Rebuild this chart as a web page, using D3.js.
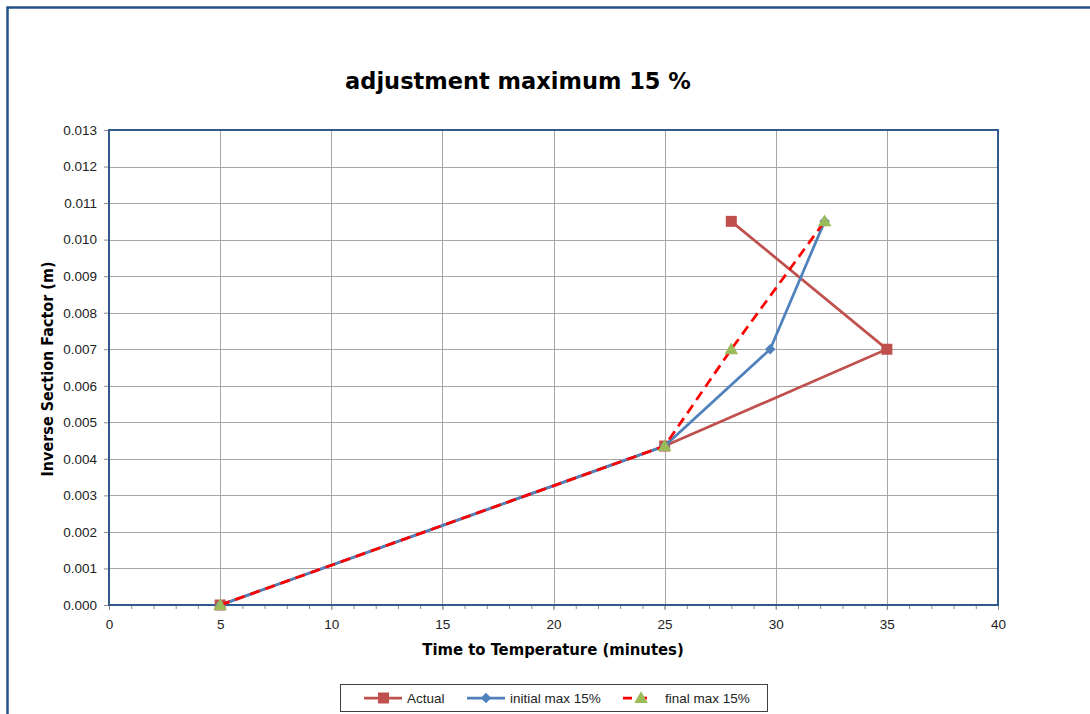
<!DOCTYPE html>
<html>
<head>
<meta charset="utf-8">
<script src="https://cdn.jsdelivr.net/npm/d3@7"></script>
<style>
  html, body { margin: 0; padding: 0; background: #ffffff; }
  svg { display: block; }
</style>
</head>
<body>
<svg id="chart" width="1090" height="714"></svg>
<script>
// Series: time to temperature (minutes) vs inverse section factor (m)
const actualX  = [5, 25, 35, 28];
const actualY  = [0.000, 0.00435, 0.0070, 0.0105];
const initialX = [5, 25, 29.75, 32.2];
const initialY = [0.000, 0.00435, 0.0070, 0.0105];
const finalX   = [5, 25, 28, 32.2];
const finalY   = [0.000, 0.00435, 0.0070, 0.0105];

const seriesNames = ["Actual", "initial max 15%", "final max 15%"];
const xTicks = [0, 5, 10, 15, 20, 25, 30, 35, 40];
const yTicks = [0, 0.001, 0.002, 0.003, 0.004, 0.005, 0.006, 0.007, 0.008, 0.009, 0.010, 0.011, 0.012, 0.013];

const titleText = "adjustment maximum 15 %";
const xTitle = "Time to Temperature (minutes)";
const yTitle = "Inverse Section Factor (m)";

const svg = d3.select("#chart");
const plot = { left: 109, top: 130, right: 998, bottom: 605 };

const x = d3.scaleLinear().domain([0, 40]).range([plot.left, plot.right]);
const y = d3.scaleLinear().domain([0, 0.013]).range([plot.bottom, plot.top]);

// outer chart frame
svg.append("rect")
  .attr("x", 7.5).attr("y", 7.5).attr("width", 1100).attr("height", 720)
  .attr("fill", "none").attr("stroke", "#24528A").attr("stroke-width", 2.5);

// title
svg.append("text")
  .attr("x", 518).attr("y", 89)
  .attr("text-anchor", "middle")
  .attr("font-family", "DejaVu Sans, Verdana, sans-serif")
  .attr("font-weight", "bold").attr("font-size", 22.5)
  .attr("fill", "#000")
  .text(titleText);

// gridlines
const grid = svg.append("g");
grid.selectAll("line.h").data(yTicks.slice(1)).join("line")
  .attr("x1", plot.left).attr("x2", plot.right)
  .attr("y1", d => Math.round(y(d)) + 0.5).attr("y2", d => Math.round(y(d)) + 0.5)
  .attr("stroke", "#a6a6a6").attr("stroke-width", 1);
grid.selectAll("line.v").data(xTicks.slice(1, -1)).join("line")
  .attr("y1", plot.top).attr("y2", plot.bottom)
  .attr("x1", d => Math.round(x(d)) + 0.5).attr("x2", d => Math.round(x(d)) + 0.5)
  .attr("stroke", "#a6a6a6").attr("stroke-width", 1);

// axes
const fmtY = d3.format(".3f");
const yAxis = svg.append("g")
  .attr("transform", `translate(${plot.left},0)`)
  .call(d3.axisLeft(y).tickValues(yTicks).tickFormat(fmtY).tickSize(5).tickPadding(7));
const xAxis = svg.append("g")
  .attr("transform", `translate(0,${plot.bottom})`)
  .call(d3.axisBottom(x).tickValues(xTicks).tickFormat(d3.format("d")).tickSize(5).tickPadding(9));
const xMinor = svg.append("g")
  .attr("transform", `translate(0,${plot.bottom})`)
  .call(d3.axisBottom(x).tickValues(d3.range(0, 41, 1)).tickFormat("").tickSize(4));
[yAxis, xAxis, xMinor].forEach(g => {
  g.select(".domain").remove();
  g.selectAll(".tick line").attr("stroke", "#8c8c8c");
  g.selectAll("text")
    .attr("font-family", "Liberation Sans, Arial, sans-serif")
    .attr("font-size", 13.5).attr("fill", "#222");
});

// plot area border
svg.append("rect")
  .attr("x", plot.left).attr("y", plot.top)
  .attr("width", plot.right - plot.left).attr("height", plot.bottom - plot.top)
  .attr("fill", "none").attr("stroke", "#2E5A8E").attr("stroke-width", 2);

// axis titles
svg.append("text")
  .attr("x", 553).attr("y", 655)
  .attr("text-anchor", "middle")
  .attr("font-family", "DejaVu Sans Condensed, DejaVu Sans, sans-serif")
  .attr("font-weight", "bold").attr("font-size", 16.5)
  .text(xTitle);
svg.append("text")
  .attr("transform", "translate(53,369) rotate(-90)")
  .attr("text-anchor", "middle")
  .attr("font-family", "DejaVu Sans Condensed, DejaVu Sans, sans-serif")
  .attr("font-weight", "bold").attr("font-size", 16)
  .text(yTitle);

const zip = (xs, ys) => xs.map((v, i) => [v, ys[i]]);
const line = d3.line().x(d => x(d[0])).y(d => y(d[1]));

const colors = { actual: "#C0504D", initial: "#4F81BD", finalLine: "#FF0000", finalMark: "#9BBB59" };

// Actual
const actual = zip(actualX, actualY);
svg.append("path").datum(actual).attr("d", line)
  .attr("fill", "none").attr("stroke", colors.actual).attr("stroke-width", 2.75);
svg.selectAll("rect.act").data(actual).join("rect")
  .attr("x", d => x(d[0]) - 5.5).attr("y", d => y(d[1]) - 5.5)
  .attr("width", 11).attr("height", 11).attr("fill", colors.actual);

// initial
const initial = zip(initialX, initialY);
svg.append("path").datum(initial).attr("d", line)
  .attr("fill", "none").attr("stroke", colors.initial).attr("stroke-width", 2.75);
const diamond = d3.symbol().type(d3.symbolDiamond2).size(70);
svg.selectAll("path.ini").data(initial).join("path")
  .attr("transform", d => `translate(${x(d[0])},${y(d[1])})`)
  .attr("d", diamond).attr("fill", colors.initial);

// final
const fin = zip(finalX, finalY);
svg.append("path").datum(fin).attr("d", line)
  .attr("fill", "none").attr("stroke", colors.finalLine).attr("stroke-width", 2.75)
  .attr("stroke-dasharray", "10,6");
const tri = d3.symbol().type(d3.symbolTriangle).size(80);
svg.selectAll("path.fin").data(fin).join("path")
  .attr("transform", d => `translate(${x(d[0])},${y(d[1]) + 1})`)
  .attr("d", tri).attr("fill", colors.finalMark);

// legend
const lg = svg.append("g");
lg.append("rect").attr("x", 340.5).attr("y", 684.5).attr("width", 427).attr("height", 27)
  .attr("fill", "#fff").attr("stroke", "#404040").attr("stroke-width", 1);
const ly = 698;
const legendItems = [
  { x0: 364, tx: 407, name: seriesNames[0] },
  { x0: 467, tx: 510, name: seriesNames[1] },
  { x0: 623, tx: 665, name: seriesNames[2] }
];
// Actual swatch
lg.append("line").attr("x1", legendItems[0].x0).attr("x2", legendItems[0].x0 + 38)
  .attr("y1", ly).attr("y2", ly).attr("stroke", colors.actual).attr("stroke-width", 2.75);
lg.append("rect").attr("x", legendItems[0].x0 + 14).attr("y", ly - 5.5)
  .attr("width", 11).attr("height", 11).attr("fill", colors.actual);
// initial swatch
lg.append("line").attr("x1", legendItems[1].x0).attr("x2", legendItems[1].x0 + 38)
  .attr("y1", ly).attr("y2", ly).attr("stroke", colors.initial).attr("stroke-width", 2.75);
lg.append("path").attr("transform", `translate(${legendItems[1].x0 + 19},${ly})`)
  .attr("d", diamond).attr("fill", colors.initial);
// final swatch
lg.append("line").attr("x1", legendItems[2].x0).attr("x2", legendItems[2].x0 + 30)
  .attr("y1", ly).attr("y2", ly).attr("stroke", colors.finalLine).attr("stroke-width", 2.75)
  .attr("stroke-dasharray", "9,6");
lg.append("path").attr("transform", `translate(${legendItems[2].x0 + 18},${ly + 1})`)
  .attr("d", tri).attr("fill", colors.finalMark);
legendItems.forEach(it => {
  lg.append("text").attr("x", it.tx).attr("y", ly + 5)
    .attr("font-family", "Liberation Sans, Arial, sans-serif")
    .attr("font-size", 13.5).attr("fill", "#222")
    .text(it.name);
});
</script>
</body>
</html>
